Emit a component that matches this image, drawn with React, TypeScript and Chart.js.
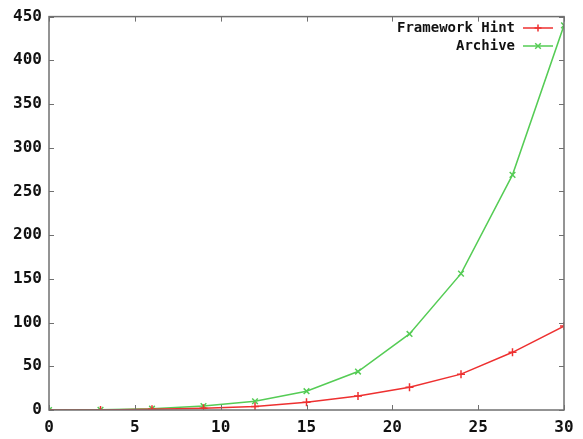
import React, { useEffect, useRef } from "react";
import { Chart, registerables } from "chart.js";

Chart.register(...registerables);

const xValues = [0, 3, 6, 9, 12, 15, 18, 21, 24, 27, 30];
const frameworkHint = [0, 0.1, 0.8, 2, 4, 9, 16, 26, 41, 66, 96];
const archive = [0, 0.3, 1.5, 4.5, 10, 21.5, 44, 87, 156, 269, 440];
const seriesLabels = ["Framework Hint", "Archive"];
const seriesColors = ["#ee3030", "#55cc55"];
const seriesMarkers = ["cross", "crossRot"];

const FONT = "'DejaVu Sans Mono', 'Liberation Mono', monospace";

const boxPlugin = {
  id: "gnuBox",
  afterDatasetsDraw(chart: any) {
    const { ctx, chartArea: a, scales } = chart;
    ctx.save();
    ctx.strokeStyle = "#707070";
    ctx.lineWidth = 1.5;
    ctx.strokeRect(a.left, a.top, a.right - a.left, a.bottom - a.top);
    ctx.lineWidth = 1;
    const len = 5;
    scales.x.ticks.forEach((t: any) => {
      const px = Math.round(scales.x.getPixelForValue(t.value)) + 0.5;
      ctx.beginPath();
      ctx.moveTo(px, a.bottom);
      ctx.lineTo(px, a.bottom - len);
      ctx.moveTo(px, a.top);
      ctx.lineTo(px, a.top + len);
      ctx.stroke();
    });
    scales.y.ticks.forEach((t: any) => {
      const py = Math.round(scales.y.getPixelForValue(t.value)) + 0.5;
      ctx.beginPath();
      ctx.moveTo(a.left, py);
      ctx.lineTo(a.left + len, py);
      ctx.moveTo(a.right, py);
      ctx.lineTo(a.right - len, py);
      ctx.stroke();
    });
    // legend
    ctx.font = `bold 14px ${FONT}`;
    ctx.textAlign = "right";
    ctx.textBaseline = "middle";
    chart.data.datasets.forEach((ds: any, i: number) => {
      const y = 28 + i * 18;
      ctx.fillStyle = "#111111";
      ctx.fillText(ds.label, 515, y);
      ctx.strokeStyle = ds.borderColor;
      ctx.lineWidth = 1.5;
      ctx.beginPath();
      ctx.moveTo(523, y);
      ctx.lineTo(553, y);
      ctx.stroke();
      const cx = 538;
      const r = 3.5;
      ctx.beginPath();
      if (ds.pointStyle === "cross") {
        ctx.moveTo(cx, y - r);
        ctx.lineTo(cx, y + r);
        ctx.moveTo(cx - r, y);
        ctx.lineTo(cx + r, y);
      } else {
        ctx.moveTo(cx - r * 0.8, y - r * 0.8);
        ctx.lineTo(cx + r * 0.8, y + r * 0.8);
        ctx.moveTo(cx - r * 0.8, y + r * 0.8);
        ctx.lineTo(cx + r * 0.8, y - r * 0.8);
      }
      ctx.stroke();
    });
    ctx.restore();
  },
};

export default function App() {
  const ref = useRef<HTMLCanvasElement>(null);
  useEffect(() => {
    if (!ref.current) return;
    const series = [frameworkHint, archive];
    const chart = new Chart(ref.current, {
      type: "line",
      data: {
        datasets: series.map((vals, i) => ({
          label: seriesLabels[i],
          data: xValues.map((x, j) => ({ x, y: vals[j] })),
          borderColor: seriesColors[i],
          backgroundColor: seriesColors[i],
          borderWidth: 1.5,
          pointStyle: seriesMarkers[i] as any,
          pointRadius: 4,
          pointBorderWidth: 1.5,
          tension: 0,
          fill: false,
        })),
      },
      options: {
        responsive: false,
        animation: false,
        layout: { padding: { top: 14, right: 19, left: 0, bottom: 0 } },
        plugins: { legend: { display: false }, tooltip: { enabled: false } },
        scales: {
          x: {
            type: "linear",
            min: 0,
            max: 30,
            border: { display: false },
            grid: { display: false, drawTicks: false },
            ticks: {
              stepSize: 5,
              padding: 8,
              color: "#111111",
              font: { family: FONT, size: 16, weight: "bold" },
              maxRotation: 0,
            },
            afterFit(s: any) {
              s.height = 29;
            },
          },
          y: {
            min: 0,
            max: 450,
            border: { display: false },
            grid: { display: false, drawTicks: false },
            ticks: {
              stepSize: 50,
              padding: 7,
              color: "#111111",
              font: { family: FONT, size: 16, weight: "bold" },
            },
            afterFit(s: any) {
              s.width = 49;
            },
          },
        },
      },
      plugins: [boxPlugin],
    });
    return () => chart.destroy();
  }, []);
  return (
    <div style={{ position: "absolute", left: 0, top: 0, width: 583, height: 439, background: "#ffffff" }}>
      <canvas ref={ref} width={583} height={439} />
    </div>
  );
}
